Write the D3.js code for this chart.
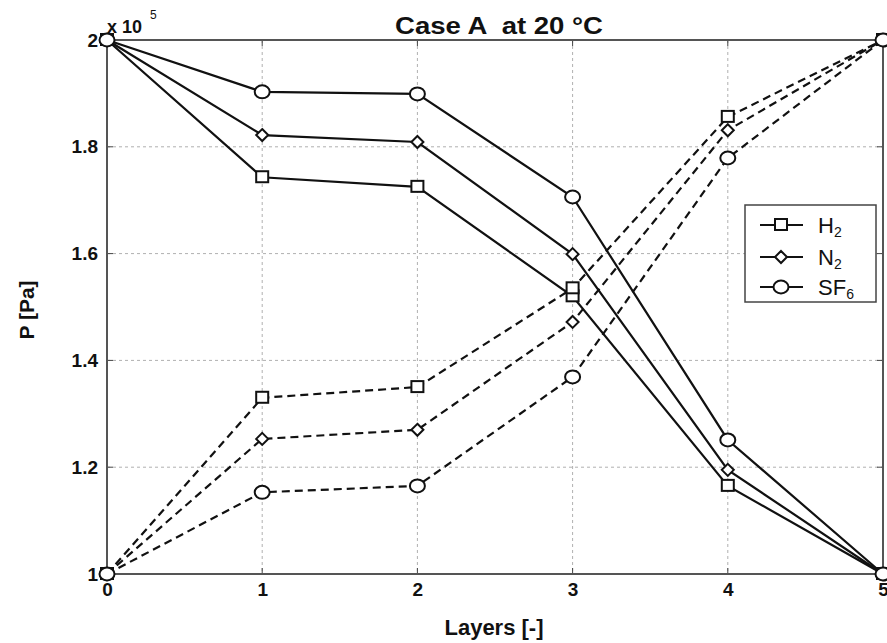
<!DOCTYPE html>
<html><head><meta charset="utf-8">
<script src="https://cdn.jsdelivr.net/npm/d3@7"></script>
<style>body{margin:0;background:#fff;} text{font-family:"Liberation Sans",Arial,sans-serif;font-weight:bold;white-space:pre;}</style>
</head><body>
<svg id="c" width="887" height="643"></svg>
<script>
const layers = [0, 1, 2, 3, 4, 5];
const xTicks = [0, 1, 2, 3, 4, 5];
const yTicks = [1.0, 1.2, 1.4, 1.6, 1.8, 2.0];
const yTickLabels = ["1", "1.2", "1.4", "1.6", "1.8", "2"];
const gases = ["H2", "N2", "SF6"];
const markers = ["square", "diamond", "circle"];
// P in units of 1e5 Pa
const H2_solid  = [2.0, 1.743, 1.725, 1.520, 1.165, 1.0];
const N2_solid  = [2.0, 1.822, 1.809, 1.599, 1.195, 1.0];
const SF6_solid = [2.0, 1.903, 1.899, 1.706, 1.251, 1.0];
const H2_dash   = [1.0, 1.330, 1.350, 1.535, 1.856, 2.0];
const N2_dash   = [1.0, 1.253, 1.270, 1.472, 1.831, 2.0];
const SF6_dash  = [1.0, 1.153, 1.165, 1.369, 1.779, 2.0];

const series = [
  {vals: H2_solid, m: "square", dash: false},
  {vals: N2_solid, m: "diamond", dash: false},
  {vals: SF6_solid, m: "circle", dash: false},
  {vals: H2_dash, m: "square", dash: true},
  {vals: N2_dash, m: "diamond", dash: true},
  {vals: SF6_dash, m: "circle", dash: true}
];

const svg = d3.select("#c");
const L = 107, R = 883, T = 40, B = 574;
const x = d3.scaleLinear().domain([0, 5]).range([L, R]);
const y = d3.scaleLinear().domain([1, 2]).range([B, T]);

// grid
const g = svg.append("g");
g.selectAll(".gx").data(xTicks.slice(1, -1)).enter().append("line")
  .attr("x1", d => x(d)).attr("x2", d => x(d)).attr("y1", T).attr("y2", B)
  .attr("stroke", "#b0b0b0").attr("stroke-width", 1).attr("stroke-dasharray", "3,3");
g.selectAll(".gy").data(yTicks.slice(1, -1)).enter().append("line")
  .attr("y1", d => y(d)).attr("y2", d => y(d)).attr("x1", L).attr("x2", R)
  .attr("stroke", "#b0b0b0").attr("stroke-width", 1).attr("stroke-dasharray", "3,3");

// axes
const xAxis = d3.axisBottom(x).tickValues(xTicks).tickSize(0).tickPadding(9).tickFormat(d3.format("d"));
const yAxis = d3.axisLeft(y).tickValues(yTicks).tickSize(0).tickPadding(9).tickFormat((d, i) => yTickLabels[i]);
const gx = svg.append("g").attr("transform", `translate(0,${B})`).call(xAxis);
const gy = svg.append("g").attr("transform", `translate(${L},0)`).call(yAxis);
[gx, gy].forEach(a => {
  a.attr("font-size", 19).attr("font-family", null);
  a.select(".domain").remove();
  a.selectAll("text").attr("fill", "#111");
});
// small inner ticks
svg.append("g").selectAll("line").data(xTicks).enter().append("line")
  .attr("x1", d => x(d)).attr("x2", d => x(d)).attr("y1", B).attr("y2", B - 6).attr("stroke", "#444");
svg.append("g").selectAll("line").data(xTicks).enter().append("line")
  .attr("x1", d => x(d)).attr("x2", d => x(d)).attr("y1", T).attr("y2", T + 6).attr("stroke", "#444");
svg.append("g").selectAll("line").data(yTicks).enter().append("line")
  .attr("y1", d => y(d)).attr("y2", d => y(d)).attr("x1", L).attr("x2", L + 6).attr("stroke", "#444");
svg.append("g").selectAll("line").data(yTicks).enter().append("line")
  .attr("y1", d => y(d)).attr("y2", d => y(d)).attr("x1", R).attr("x2", R - 6).attr("stroke", "#444");

// frame
svg.append("rect").attr("x", L).attr("y", T).attr("width", R - L).attr("height", B - T)
  .attr("fill", "none").attr("stroke", "#555").attr("stroke-width", 2);

// lines
const line = d3.line().x((d, i) => x(layers[i])).y(d => y(d));
function drawMarker(sel, m, cx, cy) {
  if (m === "square") {
    sel.append("rect").attr("x", cx - 6).attr("y", cy - 6).attr("width", 12).attr("height", 11)
      .attr("fill", "#fff").attr("stroke", "#111").attr("stroke-width", 2);
  } else if (m === "diamond") {
    sel.append("path").attr("d", `M${cx},${cy - 6}L${cx + 6},${cy}L${cx},${cy + 6}L${cx - 6},${cy}Z`)
      .attr("fill", "#fff").attr("stroke", "#111").attr("stroke-width", 2);
  } else {
    sel.append("ellipse").attr("cx", cx).attr("cy", cy).attr("rx", 7.5).attr("ry", 6.5)
      .attr("fill", "#fff").attr("stroke", "#111").attr("stroke-width", 2);
  }
}
const pg = svg.append("g");
series.forEach(s => {
  pg.append("path").datum(s.vals).attr("d", line).attr("fill", "none")
    .attr("stroke", "#111").attr("stroke-width", 2.2)
    .attr("stroke-dasharray", s.dash ? "8,5" : null);
});
const mg = svg.append("g");
series.forEach(s => {
  s.vals.forEach((v, i) => drawMarker(mg, s.m, x(layers[i]), y(v)));
});

// title & labels
svg.append("text").attr("x", 395).attr("y", 34)
  .attr("font-size", 23).attr("fill", "#111")
  .attr("textLength", 208).attr("lengthAdjust", "spacingAndGlyphs")
  .text("Case A  at 20 \u00B0C");
const ex = svg.append("text").attr("x", 107).attr("y", 33).attr("font-size", 18).attr("fill", "#111");
ex.append("tspan").text("x 10");
ex.append("tspan").attr("dx", 8).attr("dy", -14).attr("font-size", 12).style("font-weight", "normal").text("5");
svg.append("text").attr("x", 494).attr("y", 635).attr("text-anchor", "middle")
  .attr("font-size", 22).attr("fill", "#111").text("Layers [-]");
svg.append("text").attr("transform", "translate(34,310) rotate(-90)").attr("text-anchor", "middle")
  .attr("font-size", 21).attr("fill", "#111").text("P [Pa]");

// legend
const lg = svg.append("g");
lg.append("rect").attr("x", 745).attr("y", 205).attr("width", 131).attr("height", 97)
  .attr("fill", "#fff").attr("stroke", "#444").attr("stroke-width", 1.5);
const legY = [225, 257, 287];
const subs = ["2", "2", "6"];
const bases = ["H", "N", "SF"];
gases.forEach((gname, i) => {
  lg.append("line").attr("x1", 760).attr("x2", 803).attr("y1", legY[i]).attr("y2", legY[i])
    .attr("stroke", "#111").attr("stroke-width", 2);
  drawMarker(lg, markers[i], 781, legY[i]);
  const t = lg.append("text").attr("x", 818).attr("y", legY[i] + 8).attr("font-size", 22)
    .style("font-weight", "normal").attr("fill", "#111");
  t.append("tspan").text(bases[i]);
  t.append("tspan").attr("dy", 4).attr("font-size", 14).text(subs[i]);
});
</script>
</body></html>
